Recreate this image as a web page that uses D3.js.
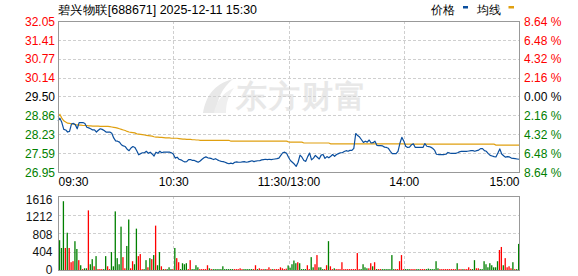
<!DOCTYPE html>
<html>
<head>
<meta charset="utf-8">
<script src="https://cdn.jsdelivr.net/npm/d3@7"></script>
<style>
  html, body { margin: 0; padding: 0; background: #fff; }
  svg { display: block; }
  text { font-family: "Liberation Sans", Arial, sans-serif; }
</style>
</head>
<body>
<svg id="chart" width="578" height="276"></svg>
<script>
// ---------------- DATA ----------------
const title = "碧兴物联[688671] 2025-12-11 15:30";
const prevClose = 29.50;
const priceTicks = [32.05, 31.41, 30.77, 30.14, 29.50, 28.86, 28.23, 27.59, 26.95];
const pctLabels = ["8.64 %", "6.48 %", "4.32 %", "2.16 %", "0.00 %", "2.16 %", "4.32 %", "6.48 %", "8.64 %"];
const volTicks = [1616, 1212, 808, 404, 0];
const timeIdx = [0, 60, 120, 180, 240];
const timeLabels = ["09:30", "10:30", "11:30/13:00", "14:00", "15:00"];

// minute-by-minute price (241 points, 09:30 .. 15:00)
const price = [
 28.68,28.77,28.62,28.39,28.37,28.30,28.32,28.57,28.59,28.55,
 28.41,28.62,28.62,28.62,28.59,28.46,28.44,28.41,28.37,28.37,
 28.30,28.36,28.41,28.39,28.35,28.30,28.30,28.30,28.26,28.10,
 28.00,27.99,27.96,27.87,27.83,27.81,27.72,27.67,27.76,27.81,
 27.78,27.67,27.53,27.57,27.60,27.60,27.65,27.58,27.62,27.56,
 27.49,27.62,27.58,27.65,27.60,27.62,27.62,27.62,27.62,27.60,
 27.56,27.42,27.45,27.38,27.36,27.32,27.29,27.30,27.37,27.37,
 27.34,27.34,27.31,27.28,27.32,27.38,27.43,27.46,27.43,27.42,
 27.40,27.37,27.40,27.36,27.33,27.31,27.30,27.28,27.25,27.23,
 27.25,27.23,27.28,27.29,27.28,27.28,27.29,27.30,27.28,27.29,
 27.31,27.33,27.30,27.32,27.33,27.33,27.36,27.37,27.38,27.37,
 27.38,27.37,27.38,27.39,27.40,27.42,27.51,27.60,27.62,27.58,
 27.45,27.34,27.28,27.22,27.14,27.28,27.52,27.45,27.34,27.31,
 27.47,27.59,27.36,27.42,27.51,27.45,27.39,27.52,27.54,27.41,
 27.47,27.43,27.48,27.54,27.48,27.54,27.57,27.60,27.60,27.64,
 27.67,27.65,27.68,27.68,27.75,28.25,28.18,28.13,28.04,27.95,
 27.99,27.96,28.03,27.93,27.94,27.99,27.85,27.84,27.84,27.83,
 27.79,27.78,27.75,27.65,27.57,27.57,27.57,27.65,27.92,28.12,
 28.00,27.82,27.78,27.79,27.87,27.90,27.78,27.78,27.78,27.78,
 27.78,27.91,27.82,27.81,27.79,27.75,27.69,27.55,27.54,27.54,
 27.54,27.54,27.55,27.61,27.59,27.58,27.58,27.58,27.60,27.63,
 27.65,27.65,27.65,27.65,27.66,27.67,27.67,27.65,27.67,27.69,
 27.74,27.74,27.67,27.65,27.57,27.51,27.49,27.47,27.46,27.59,
 27.73,27.56,27.50,27.45,27.47,27.46,27.42,27.41,27.40,27.39,
 27.38
];

// minute-by-minute average price line (241 points)
const avgPrice = [
 28.82,28.89,28.77,28.68,28.64,28.60,28.59,28.58,28.57,28.55,
 28.54,28.53,28.53,28.52,28.52,28.52,28.51,28.51,28.50,28.50,
 28.50,28.50,28.49,28.49,28.49,28.49,28.49,28.48,28.47,28.46,
 28.45,28.43,28.41,28.39,28.37,28.35,28.32,28.30,28.29,28.28,
 28.27,28.24,28.23,28.22,28.21,28.20,28.19,28.18,28.17,28.16,
 28.14,28.13,28.13,28.12,28.12,28.11,28.10,28.10,28.10,28.09,
 28.09,28.09,28.09,28.08,28.07,28.06,28.06,28.05,28.05,28.05,
 28.04,28.04,28.03,28.03,28.02,28.02,28.02,28.02,28.02,28.02,
 28.02,28.02,28.02,28.02,28.02,28.02,28.02,28.02,28.02,28.02,
 27.99,27.99,27.99,27.99,27.99,27.99,27.99,27.99,27.99,27.99,
 27.99,27.99,27.99,27.99,27.99,27.99,27.99,27.99,27.99,27.99,
 27.99,27.99,27.99,27.99,27.99,27.99,27.99,27.99,27.99,27.99,
 27.97,27.96,27.96,27.96,27.96,27.96,27.96,27.96,27.93,27.93,
 27.93,27.93,27.93,27.93,27.93,27.93,27.93,27.93,27.93,27.93,
 27.93,27.93,27.90,27.90,27.90,27.90,27.90,27.90,27.90,27.90,
 27.90,27.90,27.90,27.90,27.90,27.90,27.90,27.90,27.90,27.90,
 27.90,27.90,27.90,27.90,27.90,27.90,27.90,27.90,27.90,27.90,
 27.90,27.90,27.90,27.90,27.90,27.90,27.90,27.90,27.90,27.90,
 27.90,27.89,27.89,27.89,27.89,27.89,27.89,27.89,27.89,27.89,
 27.89,27.89,27.89,27.89,27.89,27.89,27.89,27.89,27.89,27.89,
 27.89,27.89,27.89,27.89,27.89,27.89,27.89,27.89,27.89,27.89,
 27.89,27.89,27.89,27.89,27.89,27.89,27.89,27.89,27.89,27.89,
 27.89,27.89,27.89,27.89,27.89,27.89,27.89,27.89,27.86,27.86,
 27.86,27.86,27.86,27.86,27.86,27.86,27.86,27.86,27.86,27.86,
 27.86
];

// minute volume (240 bars, 09:31 .. 15:00)
const volume = [
 651,481,1502,481,814,481,170,192,629,459,
 215,104,20,37,37,1302,126,237,81,303,
 20,20,20,20,303,81,20,392,81,1280,
 259,126,947,281,37,525,1103,37,192,126,
 903,303,348,20,20,215,59,259,237,326,
 969,104,392,81,20,20,20,59,20,20,
 481,259,170,20,148,126,148,20,215,20,
 20,104,59,20,20,20,20,104,37,20,
 20,20,20,20,20,81,20,20,20,20,
 20,20,20,20,37,20,20,20,20,20,
 20,20,104,20,37,20,20,20,20,59,
 20,20,20,20,20,59,37,20,30,100,
 50,126,207,148,170,148,20,20,20,104,
 20,281,59,126,326,59,59,20,20,104,
 630,81,20,37,20,20,20,170,20,20,
 20,20,20,20,20,370,20,20,126,59,
 37,37,148,81,170,20,20,20,20,20,
 20,20,20,326,20,20,20,192,326,20,
 20,20,20,20,20,20,20,20,20,20,
 20,20,30,20,20,20,192,37,20,20,
 20,20,20,20,20,20,20,148,20,20,
 20,20,20,59,20,20,215,37,37,20,
 20,192,126,59,148,104,59,59,192,437,
 503,104,259,59,81,37,170,20,20,570
];
// direction of each volume bar: r = up (red), g = down (green)
const volDir =
 "gggrgrrrgg" + "rgrggrggrg" + "rrrggrrggg" + "gggrrggrrg" +
 "grrrggrgrg" + "rggrgrgggr" + "grrggggrrg" + "gggrrrrrgr" +
 "gggggggggg" + "grrrrrgggg" + "grrgrrrgrr" + "rgrrrrrrrg" +
 "ggggrggggr" + "rggrrgggrr" + "grrgrrrrrr" + "rrrrrrrggg" +
 "grrgrgrrgg" + "gggggrrrrr" + "gggrrrggrr" + "rgggggggrr" +
 "rrrrrrrgrr" + "grrrrggrrg" + "gggggggggr" + "rgrrrrgrgg";

// ---------------- DRAW ----------------
const svg = d3.select("#chart");
const L = 58, R = 519, T1 = 21, B1 = 172, T2 = 196, B2 = 270;

const x = d3.scaleLinear().domain([0, 240]).range([L, R]);
const y = d3.scaleLinear().domain([26.95, 32.05]).range([B1, T1]);
const yv = d3.scaleLinear().domain([0, 1616]).range([B2, T2]);
// label positions of the volume axis (slightly tighter than the grid)
const yvLab = d3.scaleLinear().domain([0, 1616]).range([B2, T2 + 3.5]);

const RED = "#ff0000", GREEN = "#008000", DARK = "#000000";
const snap = v => Math.round(v) + 0.5;

// watermark
const wm = svg.append("g").attr("fill", "#e8e8e8");
wm.append("path").attr("d", "M203,113 C206,96 214,84 233,79 C222,88 217,99 216,113 Z");
wm.append("path").attr("d", "M214,113 C216,102 222,93 234,88 C228,96 226,104 226,113 Z").attr("fill", "#efefef");
wm.append("text").attr("x", 236).attr("y", 107)
  .attr("font-family", "'Noto Sans CJK SC', sans-serif").attr("font-weight", "bold")
  .attr("font-size", 31).attr("letter-spacing", 2).text("东方财富");

// title
svg.append("text").attr("x", 58).attr("y", 13.5)
  .attr("font-family", "'Noto Sans CJK SC', sans-serif").attr("font-size", 12)
  .attr("textLength", 199).attr("lengthAdjust", "spacingAndGlyphs")
  .attr("fill", "#000").text(title);

// legend
const lg = svg.append("g").attr("font-family", "'Noto Sans CJK SC', sans-serif").attr("font-size", 12);
lg.append("text").attr("x", 431).attr("y", 13.5).text("价格");
lg.append("rect").attr("x", 463).attr("y", 6).attr("width", 5).attr("height", 2.5).attr("fill", "#0b4f9e");
lg.append("text").attr("x", 477).attr("y", 13.5).text("均线");
lg.append("rect").attr("x", 508.5).attr("y", 6).attr("width", 5.5).attr("height", 2.5).attr("fill", "#e0a010");

// grid
const grid = svg.append("g").attr("stroke", "#cfcfcf").attr("stroke-dasharray", "3,2").attr("stroke-width", 1);
priceTicks.slice(1, -1).forEach(t => {
  grid.append("line").attr("x1", L).attr("x2", R).attr("y1", snap(y(t))).attr("y2", snap(y(t)));
});
timeIdx.slice(1, -1).forEach(i => {
  grid.append("line").attr("x1", snap(x(i))).attr("x2", snap(x(i))).attr("y1", T1).attr("y2", B1);
  grid.append("line").attr("x1", snap(x(i))).attr("x2", snap(x(i))).attr("y1", T2).attr("y2", B2);
});
volTicks.slice(1, -1).forEach(t => {
  grid.append("line").attr("x1", L).attr("x2", R).attr("y1", snap(yv(t))).attr("y2", snap(yv(t)));
});

// volume bars
svg.append("g").selectAll("rect").data(volume).join("rect")
  .attr("x", (d, i) => x(i + 1) - 1)
  .attr("width", 1.3)
  .attr("y", d => yv(d))
  .attr("height", d => B2 - yv(d))
  .attr("fill", (d, i) => volDir[i] === "r" ? RED : GREEN);

// lines
const line = d3.line().x((d, i) => x(i)).y(d => y(d));
svg.append("path").datum(avgPrice).attr("d", line)
  .attr("fill", "none").attr("stroke", "#e0a010").attr("stroke-width", 1.2);
svg.append("path").datum(price).attr("d", line)
  .attr("fill", "none").attr("stroke", "#0b4f9e").attr("stroke-width", 1.2).attr("stroke-linejoin", "round");

// frames
svg.append("rect").attr("x", L + 0.5).attr("y", T1 + 0.5).attr("width", R - L).attr("height", B1 - T1)
  .attr("fill", "none").attr("stroke", "#999");
svg.append("rect").attr("x", L + 0.5).attr("y", T2 + 0.5).attr("width", R - L).attr("height", B2 - T2)
  .attr("fill", "none").attr("stroke", "#999");

// axes
const colorFor = v => v > prevClose + 1e-9 ? RED : (v < prevClose - 1e-9 ? GREEN : DARK);

const axL = svg.append("g").attr("transform", `translate(${L - 3},0)`)
  .call(d3.axisLeft(y).tickValues(priceTicks).tickSize(0).tickPadding(0).tickFormat(d3.format(".2f")));
axL.select(".domain").remove();
axL.selectAll("text").attr("font-size", 12).attr("font-family", "'Liberation Sans', Arial, sans-serif")
  .attr("fill", d => colorFor(d)).attr("dy", "0.34em");

const axR = svg.append("g").attr("transform", `translate(${R + 5},0)`)
  .call(d3.axisRight(y).tickValues(priceTicks).tickSize(0).tickPadding(0).tickFormat((d, i) => pctLabels[i]));
axR.select(".domain").remove();
axR.selectAll("text").attr("font-size", 12).attr("font-family", "'Liberation Sans', Arial, sans-serif")
  .attr("fill", d => colorFor(d)).attr("dy", "0.34em");

const axV = svg.append("g").attr("transform", `translate(${L - 5.5},0)`)
  .call(d3.axisLeft(yvLab).tickValues(volTicks).tickSize(0).tickPadding(0).tickFormat(d3.format("d")));
axV.select(".domain").remove();
axV.selectAll("text").attr("font-size", 12).attr("font-family", "'Liberation Sans', Arial, sans-serif")
  .attr("fill", "#111").attr("dy", "0.3em");

const axB = svg.append("g").attr("transform", `translate(0,${B1 + 13.5})`)
  .call(d3.axisBottom(x).tickValues(timeIdx).tickSize(0).tickPadding(0).tickFormat((d, i) => timeLabels[i]));
axB.select(".domain").remove();
axB.selectAll("text").attr("font-size", 12).attr("font-family", "'Liberation Sans', Arial, sans-serif")
  .attr("fill", "#000").attr("dy", 0)
  .attr("text-anchor", (d, i) => i === 0 ? "start" : (i === timeIdx.length - 1 ? "end" : "middle"));
</script>
</body>
</html>
